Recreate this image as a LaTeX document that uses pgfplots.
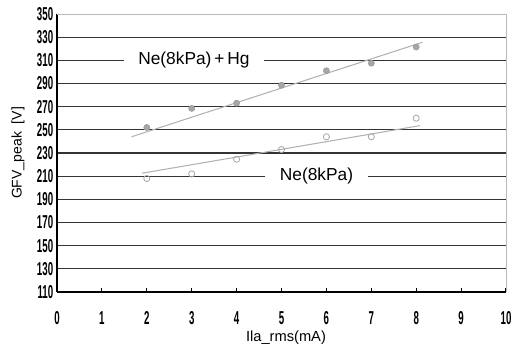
\documentclass[border=0pt]{standalone}
\usepackage{pgfplots}
\pgfplotsset{compat=1.18}
\usepackage{fontspec}
\setmainfont{Liberation Sans}
\begin{document}
\begin{tikzpicture}[x=1pt,y=1pt]
\useasboundingbox (-42.75pt,-42.75pt) rectangle ++(387.75pt,261.75pt);
\begin{axis}[
  at={(0,0)}, anchor=south west,
  scale only axis,
  width=336.75pt, height=208.5pt,
  xmin=0, xmax=10, ymin=110, ymax=350,
  axis x line*=bottom, axis y line*=left,
  axis line style={black, line width=1pt, -},
  xtick={0,...,10},
  ytick={110,130,...,330},
  extra y ticks={350},
  extra y tick style={grid=none},
  ymajorgrids,
  major grid style={black!80, line width=0.9pt},
  /pgf/number format/assume math mode=true,
  tick label style={font=\fontsize{14}{15}\selectfont\bfseries, xscale=0.52},
  xticklabel style={yshift=-11pt},
  yticklabel style={xshift=-2pt},
  x tick style={black, line width=0.8pt},
  xtick align=inside,
  major tick length=3pt,
  y tick style={draw=none},
  xlabel={Ila\_rms(mA)},
  ylabel={GFV\_peak\ \ [V]},
  xlabel style={at={(axis description cs:0.51,-0.166)}, anchor=center, font=\fontsize{11}{13}\selectfont},
  ylabel style={at={(axis description cs:-0.087,0.5)}, anchor=center, font=\fontsize{10.5}{12}\selectfont},
  clip=false,
]
\draw[gray!55, line width=0.6pt] (rel axis cs:0,1) -- (rel axis cs:1,1) -- (rel axis cs:1,0);
% trend lines
\addplot[gray!60, line width=0.8pt] coordinates {(1.66,244) (8.14,325.6)};
\addplot[gray!60, line width=0.8pt] coordinates {(1.89,212.5) (8.08,253.6)};
% data
\addplot[only marks, mark=*, mark size=2.3pt, draw=gray!80, fill=gray!70] coordinates {
 (2,252) (3,268.5) (4,273) (5,288.5) (6,301) (7,307.5) (8,321.5)};
\addplot[only marks, mark=o, mark size=2.3pt, draw=gray!70, line width=0.6pt] coordinates {
 (2,208) (3,212) (4,224.6) (5,233) (6,244) (7,244) (8,260)};
\node[fill=white, inner xsep=10.5pt, inner ysep=1pt, font=\fontsize{13}{15}\selectfont] at (axis cs:3.05,310) {Ne(8kPa)\,+\,Hg};
\node[fill=white, inner xsep=11pt, inner ysep=1pt, font=\fontsize{13}{15}\selectfont] at (axis cs:5.78,210) {Ne(8kPa)};
\end{axis}
\end{tikzpicture}
\end{document}
